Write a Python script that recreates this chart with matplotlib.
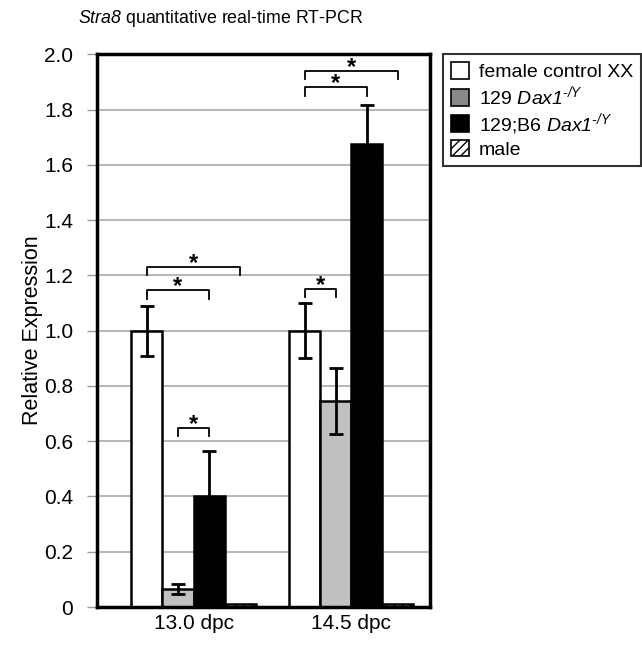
import matplotlib
matplotlib.use("Agg")
import matplotlib.pyplot as plt
from matplotlib.patches import Patch
import numpy as np

plt.rcParams['font.family'] = ['Liberation Sans', 'DejaVu Sans']
plt.rcParams['mathtext.fontset'] = 'custom'
plt.rcParams['mathtext.rm'] = 'Liberation Sans:italic'
plt.rcParams['mathtext.it'] = 'Liberation Sans:italic'
plt.rcParams['hatch.linewidth'] = 1.0

# Data
groups = ["13.0 dpc", "14.5 dpc"]
series = ["female control XX", r"129 $Dax1^{\text{-/Y}}$",
          r"129;B6 $Dax1^{\text{-/Y}}$", "male"]
values = {
    "female": [1.00, 1.00],
    "129": [0.065, 0.745],
    "129B6": [0.40, 1.675],
    "male": [0.012, 0.012],
}
errors = {
    "female": [0.09, 0.10],
    "129": [0.018, 0.12],
    "129B6": [0.165, 0.14],
    "male": [0.0, 0.0],
}
series_keys = ["female", "129", "129B6", "male"]
# significance brackets: (group index, bar i, bar j, height)
brackets = [
    (0, 0, 2, 1.146),
    (0, 0, 3, 1.23),
    (0, 1, 2, 0.647),
    (1, 0, 1, 1.15),
    (1, 0, 2, 1.88),
    (1, 0, 3, 1.94),
]

face = {"female": "white", "129": "#c0c0c0", "129B6": "black", "male": "white"}
hatch = {"female": None, "129": None, "129B6": None, "male": "////"}

fig = plt.figure(figsize=(6.42, 6.45), dpi=100)
ax = fig.add_axes([0.151, 0.0589, 0.519, 0.857])

w = 0.197
x = np.arange(len(groups))
offsets = (np.arange(4) - 1.5) * w

ax.set_axisbelow(True)
for k, key in enumerate(series_keys):
    ax.bar(x + offsets[k], values[key], width=w, color=face[key],
           edgecolor="black", linewidth=1.8, hatch=hatch[key], zorder=2)
    if key != "male":
        ax.errorbar(x + offsets[k], values[key], yerr=errors[key], fmt="none",
                    ecolor="black", elinewidth=2, capsize=5, capthick=2, zorder=3)

drop = 0.03
for g, i, j, h in brackets:
    x1 = x[g] + offsets[i]
    x2 = x[g] + offsets[j]
    ax.plot([x1, x1, x2, x2], [h - drop, h, h, h - drop], color="black", lw=1.3,
            zorder=4, clip_on=False)
    ax.text((x1 + x2) / 2, h - 0.011, "*", ha="center", va="baseline",
            fontsize=17, fontweight="bold", zorder=4)

ax.set_ylim(0, 2.0)
ax.set_xlim(-0.613, 1.502)
yt = np.arange(0, 2.01, 0.2)
ax.set_yticks(yt)
ax.set_yticklabels(["0"] + [f"{v:.1f}" for v in yt[1:]], fontsize=15)
ax.set_xticks(x)
ax.set_xticklabels(groups, fontsize=15)
ax.tick_params(axis="x", length=0, pad=5)
ax.tick_params(axis="y", length=7, width=1, color="#999999", pad=10)
ax.yaxis.grid(True, color="#aaaaaa", lw=1.2)
for s in ax.spines.values():
    s.set_linewidth(2.5)
ax.set_ylabel("Relative Expression", fontsize=15.5, labelpad=1)

fig.text(0.121, 0.972, r"$Stra8$ quantitative real-time RT-PCR",
         fontsize=12.8, ha="left", va="center")

handles = [
    Patch(facecolor="white", edgecolor="black", lw=1.2),
    Patch(facecolor="#888888", edgecolor="black", lw=1.2),
    Patch(facecolor="black", edgecolor="black", lw=1.2),
    Patch(facecolor="white", edgecolor="black", lw=1.2, hatch="////"),
]
leg = fig.legend(handles, series, loc="upper left", bbox_to_anchor=(0.690, 0.916),
                 fontsize=14, frameon=True, fancybox=False, edgecolor="black",
                 handlelength=0.95, handleheight=0.95, handletextpad=0.5,
                 labelspacing=0.15, borderpad=0.4, borderaxespad=0)
leg.get_frame().set_linewidth(1.5)

fig.savefig("out.png", dpi=100)
